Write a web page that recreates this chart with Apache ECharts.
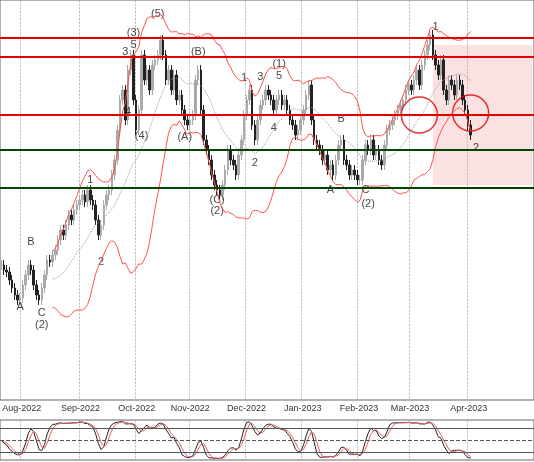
<!DOCTYPE html>
<html><head><meta charset="utf-8">
<script src="https://cdn.jsdelivr.net/npm/echarts@6/dist/echarts.min.js"></script>
<style>html,body{margin:0;padding:0;background:#fff}#main{width:534px;height:462px}</style>
</head><body><div id="main"></div>
<script>
// closing prices (chart units), one per candle
var closes = [135,130,128,120,112,105,100,102,115,125,135,130,115,105,100,
  112,125,140,138,145,150,160,170,165,175,185,180,190,195,200,
  205,198,210,200,195,180,165,175,195,205,210,225,240,270,300,310,280,330,345,
  300,270,290,345,320,330,310,335,340,345,360,345,
  320,330,310,325,300,305,290,280,275,280,285,320,330,
  290,260,250,240,225,215,210,205,215,230,250,240,235,225,
  245,260,285,300,310,275,260,280,295,300,310,305,300,
  290,300,305,295,300,290,280,275,265,270,280,290,305,315,
  280,260,255,250,240,245,230,235,225,240,255,260,240,235,225,
  230,225,220,220,240,255,250,260,245,250,240,235,
  255,270,275,280,285,290,295,300,310,315,310,320,330,315,335,
  345,355,365,345,335,325,340,310,300,320,315,305,320,315,300,290,275,265];
var resistance = [362, 343, 285];
var support = [250, 212];
var waveLabels = [[7,93,'A'],[15,87,'C'],[15,75,'(2)'],[11,158,'B'],[37,138,'2'],[33,220,'1'],
  [46,348,'3'],[49,355,'5'],[49,367,'(3)'],[58,386,'(5)'],[47,288,'4'],[52,264,'(4)'],
  [73,348,'(B)'],[68,263,'(A)'],[80,200,'(C)'],[80,189,'(2)'],[90,322,'1'],[96,323,'3'],
  [94,237,'2'],[101,272,'4'],[103,324,'5'],[103,336,'(1)'],[126,281,'B'],[122,210,'A'],
  [135,210,'C'],[136,196,'(2)'],[161,373,'1'],[176,252,'2']];
var circles = [[155,285],[174,287]];

var months = ['Jan','Feb','Mar','Apr','May','Jun','Jul','Aug','Sep','Oct','Nov','Dec'];
var slots = [];
for (var n = 0; n < 198; n++) slots.push('c' + n);
var dates = [];
var d = new Date(2022, 6, 20);
while (dates.length < 209) {
  if (d.getDay() != 0 && d.getDay() != 6) dates.push(new Date(d));
  d.setDate(d.getDate() + 1);
}
var cats = dates.map(function (x) { return x.getFullYear() + '-' + (x.getMonth() + 1) + '-' + x.getDate(); });
function monthStart(i) { return i > 0 && dates[i].getMonth() != dates[i - 1].getMonth() && dates[i] < new Date(2023, 4, 1); }

var ohlc = closes.map(function (c, i) {
  var o = i ? closes[i - 1] : c;
  return [o, c, Math.min(o, c) - 5, Math.max(o, c) + 5];
});
var ma = [], up = [], lo = [];
closes.forEach(function (c, i) {
  if (i < 19) { ma.push('-'); up.push('-'); lo.push('-'); return; }
  var s = closes.slice(i - 19, i + 1), m = s.reduce(function (a, b) { return a + b; }) / 20;
  var sd = Math.sqrt(s.reduce(function (a, b) { return a + (b - m) * (b - m); }, 0) / 20);
  ma.push(m); up.push(m + 2 * sd); lo.push(m - 2 * sd);
});
var k = [], dd = [];
ohlc.forEach(function (r, i) {
  var s = ohlc.slice(Math.max(0, i - 13), i + 1);
  var h = Math.max.apply(null, s.map(function (x) { return x[3]; }));
  var l = Math.min.apply(null, s.map(function (x) { return x[2]; }));
  k.push(h == l ? 50 : (r[1] - l) / (h - l) * 100);
});
var ks = k.map(function (v, i) { var s = k.slice(Math.max(0, i - 2), i + 1); return s.reduce(function (a, b) { return a + b; }) / s.length; });
ks.forEach(function (v, i) { var s = ks.slice(Math.max(0, i - 2), i + 1); dd.push(s.reduce(function (a, b) { return a + b; }) / s.length); });

var chart = echarts.init(document.getElementById('main'));
var hidden = { type: 'category', data: slots, boundaryGap: true, show: false, position: 'bottom' };
var dateAxis = {
  type: 'category', data: cats, boundaryGap: true, position: 'bottom',
  axisLine: { show: false }, axisTick: { show: false },
  splitLine: { show: true, interval: monthStart, lineStyle: { color: '#999', type: 'dashed', width: 0.6 } }
};
chart.setOption({
  animation: false,
  grid: [
    { left: 0, right: 0, top: 0, height: 400, show: true, borderColor: '#666', borderWidth: 1, outerBoundsMode: 'none', containLabel: false },
    { left: 0, right: 0, top: 420, height: 40, show: true, borderColor: '#666', borderWidth: 1, outerBoundsMode: 'none', containLabel: false }
  ],
  xAxis: [
    Object.assign({ gridIndex: 0 }, hidden),
    Object.assign({ gridIndex: 1 }, hidden),
    Object.assign({ gridIndex: 0, axisLabel: { interval: monthStart, fontSize: 9, color: '#333', margin: 4,
      formatter: function (v) { var p = v.split('-'); return months[p[1] - 1] + '-' + p[0]; } } }, dateAxis),
    Object.assign({ gridIndex: 1, axisLabel: { show: false } }, dateAxis)
  ],
  yAxis: [
    { gridIndex: 0, min: 0, max: 400, show: false },
    { gridIndex: 1, min: 0, max: 100, interval: 20, axisLabel: { show: false }, axisLine: { show: false }, axisTick: { show: false },
      splitLine: { show: false } }
  ],
  series: [
    { type: 'candlestick', data: ohlc, barWidth: 2,
      itemStyle: { color: '#aaa', color0: '#222', borderColor: '#aaa', borderColor0: '#222', borderWidth: 1 },
      markArea: { silent: true, itemStyle: { color: 'rgba(240,160,160,0.3)' }, data: [[{ xAxis: slots[160], yAxis: 355 }, { xAxis: slots[197], yAxis: 215 }]] },
      markLine: { silent: true, symbol: 'none', label: { show: false },
        data: resistance.map(function (v) { return { yAxis: v, lineStyle: { color: '#e00000', width: 2, type: 'solid' } }; })
          .concat(support.map(function (v) { return { yAxis: v, lineStyle: { color: '#004400', width: 2, type: 'solid' } }; })) } },
    { type: 'line', data: up, symbol: 'none', lineStyle: { color: '#ff5050', width: 1 } },
    { type: 'line', data: lo, symbol: 'none', lineStyle: { color: '#ff5050', width: 1 } },
    { type: 'line', data: ma, symbol: 'none', lineStyle: { color: '#999', width: 1, type: 'dotted' } },
    { type: 'scatter', data: circles, symbolSize: 36, itemStyle: { color: 'rgba(0,0,0,0)', borderColor: '#e00000', borderWidth: 1.5 } },
    { type: 'scatter', data: waveLabels, symbolSize: 0,
      label: { show: true, position: 'inside', fontSize: 11, color: '#111', formatter: function (p) { return p.data[2]; } } },
    { type: 'line', xAxisIndex: 1, yAxisIndex: 1, data: ks, symbol: 'none', lineStyle: { color: '#222', width: 1 },
      markLine: { silent: true, symbol: 'none', label: { show: false },
        data: [{ yAxis: 80, lineStyle: { color: '#555', type: 'solid', width: 1 } },
               { yAxis: 50, lineStyle: { color: '#555', type: 'dashed', width: 1 } },
               { yAxis: 20, lineStyle: { color: '#555', type: 'solid', width: 1 } }] } },
    { type: 'line', xAxisIndex: 1, yAxisIndex: 1, data: dd, symbol: 'none', lineStyle: { color: '#e06060', width: 1 } }
  ]
});
</script></body></html>
